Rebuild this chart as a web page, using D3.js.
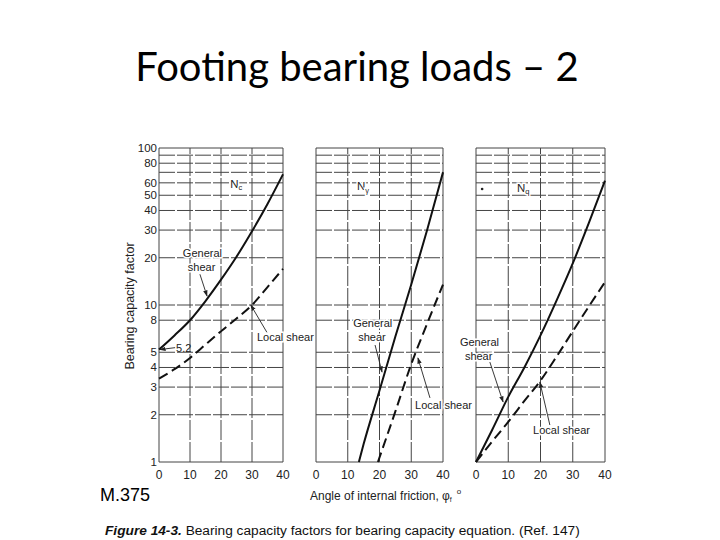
<!DOCTYPE html>
<html><head><meta charset="utf-8">
<script src="https://cdn.jsdelivr.net/npm/d3@7"></script>
<style>body{margin:0;background:#fff}</style>
</head><body><svg id="c" width="720" height="540"></svg>
<script>
// ---- data ----
const titleText = "Footing bearing loads \u2013 2";
const phi = [0,5,10,15,20,25,30,35,40];
const ncGeneral = [5.2,6.4,8.0,10.6,14.5,20.3,29.5,44,68];
const ncLocal = [3.4,3.9,4.6,5.6,6.8,8.2,10,13,17];
const phiNgGeneral = [13.5,15,20,25,30,35,40];
const ngGeneral = [1,1.3,2.85,6.3,13.5,30,70];
const phiNgLocal = [19.5,25,30,35,40];
const ngLocal = [1,2.1,4.2,7.6,13.5];
const nqGeneral = [1,1.6,2.6,4.0,6.4,10.7,18.4,33.3,62];
const nqLocal = [1,1.35,1.8,2.45,3.3,4.7,6.8,9.8,14];
const xTicks = [0,10,20,30,40];
const yGrid = [1,2,3,4,5,8,10,20,30,40,50,60,70,80,90,100];
const yTickLabels = [1,2,3,4,5,8,10,20,30,40,50,60,80,100];
const factorNames = [["N","c"],["N","\u03b3"],["N","q"]];
const axisLabelX = "Angle of internal friction, ";
const axisLabelY = "Bearing capacity factor";
const pageNote = "M.375";
const captionBold = "Figure 14-3.";
const captionText = " Bearing capacity factors for bearing capacity equation. (Ref. 147)";

// annotation positions in data units (phi, factor)
const factorLabelPos = [[23,56],[12.9,54],[12.7,52.5]];
const generalLabelPos = [[7.7,20.2],[11.7,7.2],[-5,5.48]];
const localLabelPos = [[31.6,5.9],[31.2,2.18],[17.7,1.51]];
const generalArrows = [[[13.2,15.7],[15.5,11.4]],[[18.6,5.56],[20.8,3.74]],[[4.3,4.33],[8.4,2.41]]];
const localArrows = [[[34.8,6.7],[29.6,10]],[[35.9,2.56],[32.1,4.6]],[[22.9,1.72],[19.8,3.23]]];
const startLabel = "5.2";

// ---- layout ----
const svg = d3.select("#c");
const W = 720, H = 540;
svg.append("rect").attr("width",W).attr("height",H).attr("fill","#fff");
const panelX = [[159,283],[316,443],[476,605]];
const y = d3.scaleLog().domain([1,100]).range([462,148]);

svg.append("defs").append("marker").attr("id","ah").attr("viewBox","0 0 10 10")
  .attr("refX",9).attr("refY",5).attr("markerWidth",7).attr("markerHeight",7)
  .attr("orient","auto").append("path").attr("d","M0,1.5 L10,5 L0,8.5 Z").attr("fill","#222");

svg.append("text").attr("x",357).attr("y",81).attr("text-anchor","middle")
  .attr("font-family","Lato, 'Open Sans', sans-serif").attr("font-size",40).attr("fill","#000")
  .text(titleText);

const series = [
  [{px:phi,v:ncGeneral,dash:null},{px:phi,v:ncLocal,dash:"10,5"}],
  [{px:phiNgGeneral,v:ngGeneral,dash:null},{px:phiNgLocal,v:ngLocal,dash:"10,5"}],
  [{px:phi,v:nqGeneral,dash:null},{px:phi,v:nqLocal,dash:"10,5"}]
];

const font = "'Liberation Sans', Arial, sans-serif";

panelX.forEach((rng,i)=>{
  const x = d3.scaleLinear().domain([0,40]).range(rng);
  const g = svg.append("g");
  // grid
  g.selectAll(".h").data(yGrid).enter().append("line")
    .attr("x1",x(0)).attr("x2",x(40)).attr("y1",d=>y(d)).attr("y2",d=>y(d))
    .attr("stroke","#444").attr("stroke-width",1).attr("stroke-dasharray",d=>(d===1||d===100)?null:"16,2");
  g.selectAll(".v").data(xTicks).enter().append("line")
    .attr("x1",d=>x(d)).attr("x2",d=>x(d)).attr("y1",y(1)).attr("y2",y(100))
    .attr("stroke","#444").attr("stroke-width",1).attr("stroke-dasharray",d=>(d===0||d===40)?null:"20,2");
  // x tick labels
  g.selectAll(".xt").data(xTicks).enter().append("text")
    .attr("x",d=>x(d)).attr("y",479).attr("text-anchor","middle")
    .attr("font-family",font).attr("font-size",12).attr("fill","#222").text(d=>d);
  // y tick labels (first panel only)
  if(i===0){
    g.selectAll(".yt").data(yTickLabels).enter().append("text")
      .attr("x",x(0)-2).attr("y",d=>y(d)+4).attr("text-anchor","end")
      .attr("font-family",font).attr("font-size",11.5).attr("fill","#222").text(d=>d);
  }
  // curves
  series[i].forEach(s=>{
    const pts = s.px.map((p,k)=>[p,s.v[k]]);
    g.append("path").datum(pts)
      .attr("d",d3.line().x(d=>x(d[0])).y(d=>y(d[1])).curve(d3.curveMonotoneX))
      .attr("fill","none").attr("stroke","#111").attr("stroke-width",2)
      .attr("stroke-dasharray",s.dash);
  });
  // factor label
  const fl = g.append("text").attr("x",x(factorLabelPos[i][0])).attr("y",y(factorLabelPos[i][1]))
    .attr("font-family",font).attr("font-size",11.5).attr("fill","#222")
    .attr("stroke","#fff").attr("stroke-width",3).attr("paint-order","stroke");
  fl.append("tspan").text(factorNames[i][0]);
  fl.append("tspan").attr("dy",2.5).attr("font-size",7.5).text(factorNames[i][1]);
  // general shear label
  const gl = g.append("text").attr("font-family",font).attr("font-size",11).attr("fill","#222")
    .attr("stroke","#fff").attr("stroke-width",3).attr("paint-order","stroke");
  gl.append("tspan").attr("x",x(generalLabelPos[i][0])).attr("y",y(generalLabelPos[i][1])).text("General");
  gl.append("tspan").attr("x",x(generalLabelPos[i][0])+5).attr("dy",14).text("shear");
  g.append("text").attr("x",x(localLabelPos[i][0])).attr("y",y(localLabelPos[i][1]))
    .attr("font-family",font).attr("font-size",11).attr("fill","#222")
    .attr("stroke","#fff").attr("stroke-width",3).attr("paint-order","stroke").text("Local shear");
  [generalArrows[i],localArrows[i]].forEach(a=>{
    g.append("line").attr("x1",x(a[0][0])).attr("y1",y(a[0][1])).attr("x2",x(a[1][0])).attr("y2",y(a[1][1]))
      .attr("stroke","#222").attr("stroke-width",0.9).attr("marker-end","url(#ah)");
  });
  if(i===0){
    g.append("text").attr("x",x(5.5)).attr("y",y(5.25)+3).attr("font-family",font).attr("font-size",11)
      .attr("fill","#222").text(startLabel);
    g.append("line").attr("x1",x(5.2)).attr("y1",y(5.35)).attr("x2",x(0.3)).attr("y2",y(5.2))
      .attr("stroke","#222").attr("stroke-width",0.9).attr("marker-end","url(#ah)");
  }
  if(i===2){
    g.append("circle").attr("cx",x(1.9)).attr("cy",y(52.5)-3).attr("r",1.3).attr("fill","#222");
  }
});

// y label
svg.append("text").attr("transform","translate(134,306) rotate(-90)").attr("text-anchor","middle")
  .attr("font-family",font).attr("font-size",12.5).attr("fill","#222").text(axisLabelY);
// x label
const xl = svg.append("text").attr("x",310).attr("y",500).attr("font-family",font).attr("font-size",12).attr("fill","#222");
xl.append("tspan").text(axisLabelX);
xl.append("tspan").text("\u03c6");
xl.append("tspan").attr("dy",2).attr("font-size",7).text("f");
xl.append("tspan").attr("dy",-8).attr("dx",5).attr("font-size",8).text("o");
// page note
svg.append("text").attr("x",100).attr("y",501).attr("font-family",font).attr("font-size",18).attr("fill","#000").text(pageNote);
// caption
const cp = svg.append("text").attr("x",105).attr("y",535).attr("font-family",font).attr("font-size",13.7).attr("fill","#111");
cp.append("tspan").attr("font-weight","bold").attr("font-style","italic").text(captionBold);
cp.append("tspan").text(captionText);
</script></body></html>
